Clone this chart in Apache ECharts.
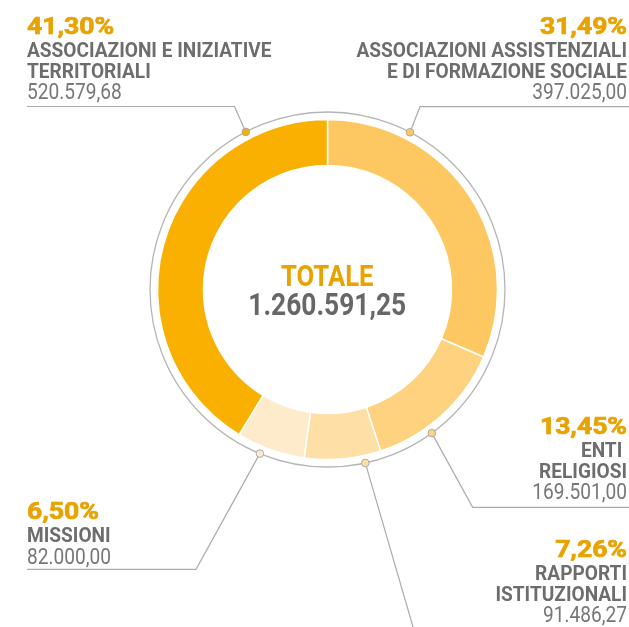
<!DOCTYPE html>
<html>
<head>
<meta charset="utf-8">
<script src="https://cdn.jsdelivr.net/npm/echarts/dist/echarts.min.js"></script>
<style>
  html, body { margin: 0; padding: 0; background: #fff; }
  #main { width: 629px; height: 627px; }
</style>
</head>
<body>
<div id="main"></div>
<script>
// dati (ordine orario a partire dalle ore 12)
var names = ['ASSOCIAZIONI ASSISTENZIALI\nE DI FORMAZIONE SOCIALE', 'ENTI \nRELIGIOSI', 'RAPPORTI\nISTITUZIONALI', 'MISSIONI', 'ASSOCIAZIONI E INIZIATIVE\nTERRITORIALI'];
var values = [397025.00, 169501.00, 91486.27, 82000.00, 520579.68];
var percentLabels = ['31,49%', '13,45%', '7,26%', '6,50%', '41,30%'];
var valueLabels = ['397.025,00', '169.501,00', '91.486,27', '82.000,00', '520.579,68'];
var totalTitle = 'TOTALE';
var totalLabel = '1.260.591,25';

var colors = ['#FDC862', '#FED27F', '#FEDFA6', '#FEEBCB', '#F9B000'];

var cx = 327.5, cy = 289.5, ringR = 177.5;

// posizione dei pallini sul cerchio grigio (gradi) e percorsi delle linee guida
var dotAngles = [62.3, -54, -77.7, -112.4, 117.4];
var elbows = [
  [[420, 106.7], [629, 106.7]],
  [[472.7, 507.3], [629, 507.3]],
  [[414.5, 632]],
  [[196, 569.3], [27, 569.3]],
  [[234.5, 106.5], [27, 106.5]]
];
// [x, allineamento, centro maiuscole della percentuale]
var anchors = [[627, 'right', 25.8], [627, 'right', 425.8], [627, 'right', 549], [27, 'left', 511], [27, 'left', 25.7]];

var FONT = 'Roboto, "Noto Sans", sans-serif';
var DY = 2.2;

function txt(x, y, text, font, sx, color, align, sw) {
  var st = { text: text, x: 0, y: 0, fill: color, font: font, textAlign: align, textVerticalAlign: 'middle' };
  if (sw) { st.stroke = color; st.lineWidth = sw; }
  return { type: 'text', x: x, y: y + DY, scaleX: sx, silent: true, z: 10, style: st };
}

var graphics = [];
graphics.push({
  type: 'circle', silent: true, z: 1,
  shape: { cx: cx, cy: cy, r: ringR },
  style: { fill: 'none', stroke: '#B5B5B5', lineWidth: 1.3 }
});

for (var i = 0; i < values.length; i++) {
  var a = dotAngles[i] * Math.PI / 180;
  var dx = cx + ringR * Math.cos(a), dy = cy - ringR * Math.sin(a);
  var pts = [[dx, dy]].concat(elbows[i]);
  graphics.push({
    type: 'polyline', silent: true, z: 2,
    shape: { points: pts },
    style: { fill: 'none', stroke: '#ABABAB', lineWidth: 1.2 }
  });
  graphics.push({
    type: 'circle', silent: true, z: 3,
    shape: { cx: dx, cy: dy, r: 3.8 },
    style: { fill: colors[i], stroke: '#A9A9A9', lineWidth: 1 }
  });

  var ax = anchors[i][0], al = anchors[i][1], y = anchors[i][2];
  graphics.push(txt(ax, y, percentLabels[i], 'bold 23.5px ' + FONT, 1.13, '#E8A300', al, 0.7));
  var lines = names[i].split('\n');
  y += 24;
  for (var k = 0; k < lines.length; k++) {
    graphics.push(txt(ax, y, lines[k], 'bold 19.8px ' + FONT, 0.965, '#6D6D6D', al));
    y += 20.8;
  }
  graphics.push(txt(ax, y, valueLabels[i], '22.5px ' + FONT, 0.85, '#777777', al));
}

graphics.push(txt(327.2, 276.2, totalTitle, 'bold 29.5px ' + FONT, 0.87, '#E8A300', 'center'));
graphics.push(txt(327.2, 305.5, totalLabel, 'bold 31px ' + FONT, 0.85, '#676767', 'center'));

var pieData = [];
for (var j = 0; j < values.length; j++) {
  pieData.push({ name: names[j].replace('\n', ' '), value: values[j], itemStyle: { color: colors[j] } });
}

var chart = echarts.init(document.getElementById('main'));
chart.setOption({
  animation: false,
  series: [{
    type: 'pie',
    center: [cx, cy],
    radius: [124, 170],
    startAngle: 90,
    clockwise: true,
    silent: true,
    label: { show: false },
    labelLine: { show: false },
    itemStyle: { borderColor: '#ffffff', borderWidth: 1.5 },
    data: pieData
  }],
  graphic: graphics
});
</script>
</body>
</html>
